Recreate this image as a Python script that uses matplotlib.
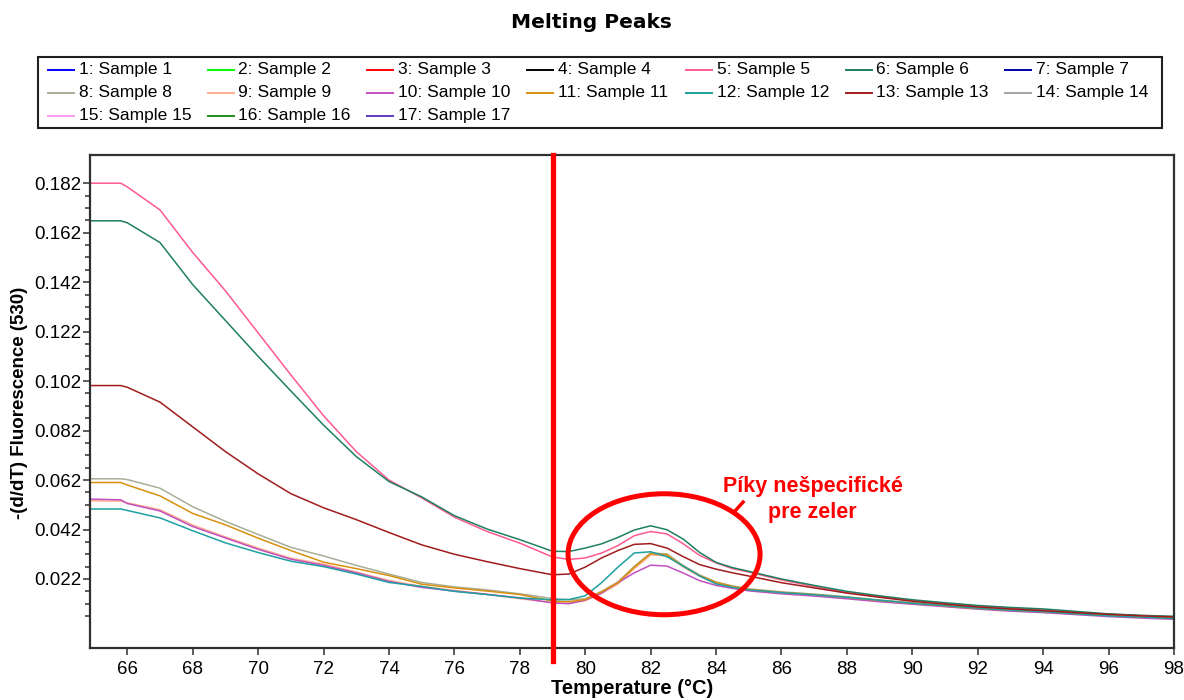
import matplotlib
matplotlib.use('agg')
import matplotlib.pyplot as plt
import matplotlib.patches as mpatches
from matplotlib.lines import Line2D
import numpy as np

# figure size in pixels (dpi 100)
W, H = 1184, 700

temperature = [64.86, 65.8, 66, 67, 68, 69, 70, 71, 72, 73, 74, 75, 76, 77, 78,
               79, 79.5, 80, 80.5, 81, 81.5, 82, 82.5, 83, 83.5, 84, 84.5, 85,
               86, 87, 88, 89, 90, 91, 92, 93, 94, 95, 96, 97, 98]

# -(d/dT) fluorescence, only the samples whose curves are visible
sample_5 = [.1820, .1820, .1805, .1712, .1540, .1385, .1215, .1045, .0880, .0735, .0620, .0548, .0470, .0412, .0365,
            .0309, .0299, .0305, .0325, .0355, .0395, .0412, .0402, .0362, .0315, .0285, .0262, .0248,
            .0216, .0190, .0165, .0148, .0133, .0120, .0110, .0102, .0094, .0085, .0078, .0072, .0068]
sample_6 = [.1668, .1668, .1660, .1580, .1410, .1265, .1120, .0980, .0842, .0715, .0614, .0552, .0476, .0422, .0379,
            .0332, .0331, .0345, .0362, .0388, .0418, .0435, .0419, .0381, .0327, .0287, .0266, .0251,
            .0220, .0194, .0170, .0152, .0136, .0124, .0113, .0105, .0099, .0089, .0079, .0073, .0069]
sample_8 = [.0625, .0625, .0622, .0587, .0512, .0453, .0400, .0348, .0313, .0275, .0240, .0206, .0188, .0176, .0160,
            .0141, .0136, .0140, .0170, .0208, .0271, .0326, .0321, .0274, .0236, .0208, .0192, .0180,
            .0168, .0159, .0148, .0135, .0124, .0113, .0104, .0096, .0090, .0082, .0075, .0069, .0064]
sample_9 = [.0536, .0535, .0528, .0500, .0438, .0390, .0345, .0304, .0280, .0248, .0214, .0190, .0174, .0158, .0140,
            .0125, .0122, .0132, .0162, .0200, .0262, .0317, .0314, .0268, .0231, .0203, .0188, .0176,
            .0164, .0155, .0144, .0131, .0120, .0110, .0100, .0092, .0086, .0078, .0071, .0065, .0060]
sample_10 = [.0543, .0540, .0525, .0495, .0432, .0386, .0340, .0300, .0275, .0245, .0210, .0186, .0171, .0158, .0144,
             .0123, .0120, .0135, .0163, .0205, .0245, .0276, .0272, .0244, .0213, .0194, .0182, .0172,
             .0160, .0151, .0140, .0128, .0118, .0108, .0098, .0090, .0084, .0076, .0068, .0062, .0057]
sample_11 = [.0610, .0610, .0600, .0556, .0485, .0439, .0385, .0335, .0288, .0262, .0234, .0199, .0184, .0171, .0157,
             .0131, .0128, .0137, .0168, .0205, .0268, .0322, .0318, .0271, .0234, .0206, .0190, .0178,
             .0166, .0157, .0146, .0133, .0122, .0111, .0101, .0094, .0088, .0080, .0073, .0067, .0062]
sample_12 = [.0503, .0503, .0497, .0467, .0415, .0366, .0327, .0292, .0270, .0240, .0206, .0190, .0170, .0157, .0143,
             .0136, .0137, .0152, .0205, .0268, .0325, .0330, .0310, .0272, .0232, .0200, .0186, .0176,
             .0165, .0156, .0146, .0134, .0122, .0112, .0102, .0094, .0088, .0079, .0071, .0066, .0060]
sample_13 = [.1002, .1002, .0995, .0935, .0835, .0735, .0645, .0565, .0508, .0460, .0408, .0358, .0320, .0290, .0262,
             .0237, .0240, .0268, .0305, .0335, .0360, .0363, .0345, .0310, .0278, .0260, .0245, .0232,
             .0205, .0184, .0163, .0146, .0130, .0118, .0107, .0099, .0092, .0084, .0077, .0071, .0066]

sample_names = ['%d: Sample %d' % (i, i) for i in range(1, 18)]
sample_colors = ['#0000ff', '#00ff00', '#ff0000', '#000000', '#ff5a8c', '#1e8060',
                 '#0000a8', '#a8ae98', '#ffac90', '#c050c0', '#d8900c', '#1ea0a0',
                 '#a01c1c', '#a4a4a4', '#ff9cf0', '#1e8c1e', '#6038c0']
curves = {5: sample_5, 6: sample_6, 8: sample_8, 9: sample_9, 10: sample_10,
          11: sample_11, 12: sample_12, 13: sample_13}

y_major = [0.022, 0.042, 0.062, 0.082, 0.102, 0.122, 0.142, 0.162, 0.182]
x_major = list(range(66, 99, 2))
cut_temperature = 79

plt.rcParams['font.family'] = ['Liberation Sans', 'DejaVu Sans']


def px(x, y):
    """pixel position (from top left) -> figure fraction"""
    return x / W, 1 - y / H


def add_legend(fig):
    """
    Boxed legend with 7 columns, filled row by row.
    """
    x0, y0 = px(38, 57)
    x1, y1 = px(1162, 128)
    fig.add_artist(mpatches.Rectangle((x0, y1), x1 - x0, y0 - y1,
                                      transform=fig.transFigure, fill=False,
                                      edgecolor='#202020', linewidth=1.5))
    for i, (name, color) in enumerate(zip(sample_names, sample_colors)):
        row, col = divmod(i, 7)
        lx = 48 + 159.5 * col
        ly = 69.5 + 23 * row
        (a, b), (c, d) = px(lx, ly), px(lx + 26, ly)
        fig.add_artist(Line2D([a, c], [b, d], transform=fig.transFigure,
                              color=color, linewidth=1.4))
        tx, ty = px(lx + 31, ly)
        fig.text(tx, ty, name, fontsize=12.5, va='center', ha='left')


fig = plt.figure(figsize=(W / 100, H / 100), dpi=100)
left, top = px(90, 155)
right, bottom = px(1174, 648)
ax = fig.add_axes([left, bottom, right - left, top - bottom])

# melting curves
for s, vals in curves.items():
    ax.plot(temperature, vals, color=sample_colors[s - 1], linewidth=1.1)

# axis formatting
ax.set_xlim(temperature[0], temperature[-1])
ax.set_ylim(-0.0059, 0.1934)
ax.set_xticks(x_major)
ax.set_xticklabels([str(t) for t in x_major])
ax.set_yticks(y_major)
ax.set_yticklabels(['%.3f' % v for v in y_major])
ax.set_yticks(np.arange(0.007, 0.1825, 0.005), minor=True)
ax.tick_params(axis='both', which='major', length=5, width=1.2,
               color='#404040', labelsize=13.5, pad=1)
ax.tick_params(axis='x', which='major', pad=4)
ax.tick_params(axis='y', which='minor', length=3.5, width=1.2, color='#404040')
for sp in ax.spines.values():
    sp.set_color('#303030')
    sp.set_linewidth(1.6)

# thick red marker line, runs a bit below the axis
ax.axvline(cut_temperature, ymin=-0.027, ymax=1, color='#ff0000',
           linewidth=3.8, clip_on=False, zorder=5)

# ellipse round the non-specific peaks
ax.add_patch(mpatches.Ellipse((82.41, 0.0320), 5.87, 0.0489, fill=False,
                              edgecolor='#ff0000', linewidth=3.6, zorder=6))
ax.plot([84.5, 84.86], [0.0483, 0.0536], color='#ff0000', linewidth=2.5,
        solid_capstyle='butt', zorder=6)
ax.text(86.95, 0.0594, 'Píky nešpecifické', color='#ff0000', fontsize=15.5,
        fontweight='bold', ha='center', va='center', zorder=7)
ax.text(86.95, 0.0488, 'pre zeler', color='#ff0000', fontsize=15.5,
        fontweight='bold', ha='center', va='center', zorder=7)

# titles and axis labels
tx, ty = px(591, 22)
fig.text(tx, ty, 'Melting Peaks', fontsize=14.5, fontweight='bold',
         family='DejaVu Sans', ha='center', va='center')
tx, ty = px(20, 403)
fig.text(tx, ty, '-(d/dT) Fluorescence (530)', fontsize=13.5,
         fontweight='bold', rotation=90, ha='center', va='center')
tx, ty = px(632, 689)
fig.text(tx, ty, 'Temperature (°C)', fontsize=14.5, fontweight='bold',
         ha='center', va='center')

add_legend(fig)

fig.savefig('out.png', dpi=100, facecolor='white')
plt.close()
